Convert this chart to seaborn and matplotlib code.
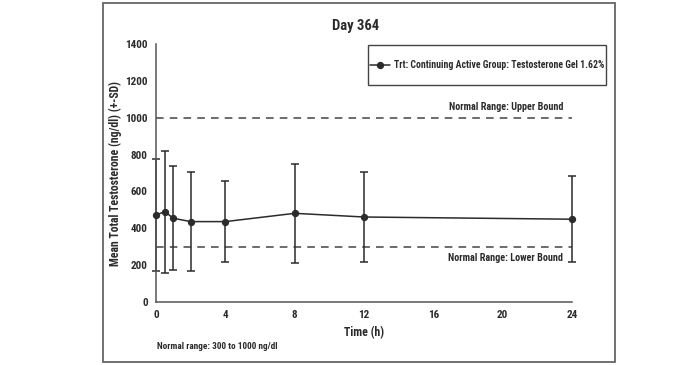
import numpy as np
import pandas as pd
import matplotlib
matplotlib.use("Agg")
import matplotlib.pyplot as plt
import seaborn as sns
from matplotlib.patches import Rectangle

# values
time_h = [0, 0.5, 1, 2, 4, 8, 12, 24]
mean_t = [472, 490, 454, 436, 436, 481, 461, 449]
sd_t = [303, 332, 283, 270, 220, 270, 242, 233]
lower_bound = 300
upper_bound = 1000
x_ticks = [0, 4, 8, 12, 16, 20, 24]
y_ticks = [0, 200, 400, 600, 800, 1000, 1200, 1400]
series_name = "Trt: Continuing Active Group: Testosterone Gel 1.62%"

df = pd.DataFrame({"Time": time_h, "Mean": mean_t, "SD": sd_t})

sns.set_style("white")
plt.rcParams["font.family"] = ["Roboto Condensed", "DejaVu Sans"]
plt.rcParams["font.weight"] = "bold"

ink = "#2b2b2b"
fig = plt.figure(figsize=(7, 3.65), dpi=100)
ax = fig.add_axes([0.223, 0.173, 0.594, 0.706])

eb = ax.errorbar(df["Time"], df["Mean"], yerr=df["SD"], fmt="none", ecolor=ink,
                 elinewidth=1.1, capsize=2.7, capthick=1.1, zorder=2)
for art in eb.lines[1] + eb.lines[2]:
    art.set_clip_on(False)
sns.lineplot(data=df, x="Time", y="Mean", marker="o", markersize=4.5, color=ink,
             linewidth=1.1, markeredgecolor=ink, label=series_name, ax=ax, zorder=3,
             clip_on=False)

ax.axhline(upper_bound, color="#444444", linestyle=(0, (5, 4)), linewidth=1.1, zorder=1)
ax.axhline(lower_bound, color="#444444", linestyle=(0, (5, 4)), linewidth=1.1, zorder=1)
ax.text(23.5, 1058, "Normal Range: Upper Bound", ha="right", va="center",
        fontsize=7.3, fontweight="bold", color=ink)
ax.text(23.5, 239, "Normal Range: Lower Bound", ha="right", va="center",
        fontsize=7.3, fontweight="bold", color=ink)

ax.set_xlim(0, 24)
ax.set_ylim(0, 1400)
ax.set_xticks(x_ticks)
ax.set_yticks(y_ticks)
ax.tick_params(direction="out", length=4, width=1, colors=ink, labelsize=8, pad=2)
for lab in ax.get_xticklabels() + ax.get_yticklabels():
    lab.set_fontweight("bold")
sns.despine(ax=ax)
for s in ["left", "bottom"]:
    ax.spines[s].set_color("#555555")
    ax.spines[s].set_linewidth(1.1)

ax.set_xlabel("Time (h)", fontsize=8.5, fontweight="bold", color=ink, labelpad=4)
ax.set_ylabel("Mean Total Testosterone (ng/dl) (+-SD)", fontsize=8.5, fontweight="bold",
              color=ink, labelpad=2)
fig.text(0.508, 0.93, "Day 364", ha="center", va="center", fontsize=10.5,
         fontweight="bold", color=ink)
fig.text(0.224, 0.052, "Normal range: 300 to 1000 ng/dl", ha="left", va="center",
         fontsize=6.7, fontweight="bold", color=ink)

# legend text centred in a tall box, box drawn separately
leg = ax.legend(loc="center", bbox_to_anchor=(487 / 700, 1 - 65 / 365),
                bbox_transform=fig.transFigure, frameon=False,
                fontsize=7, handlelength=2.0, handletextpad=0.4, borderpad=0)
for t in leg.get_texts():
    t.set_fontweight("bold")
    t.set_color(ink)
fig.patches.append(Rectangle((368 / 700, 1 - 85 / 365), 238 / 700, 40 / 365,
                             transform=fig.transFigure, fill=False,
                             edgecolor="#444444", linewidth=1.0))

fig.patches.append(Rectangle((103 / 700, 1 - 362 / 365), 512 / 700, 359 / 365,
                             transform=fig.transFigure, fill=False,
                             edgecolor="#666666", linewidth=1.3))

fig.savefig("out.png", dpi=100)
